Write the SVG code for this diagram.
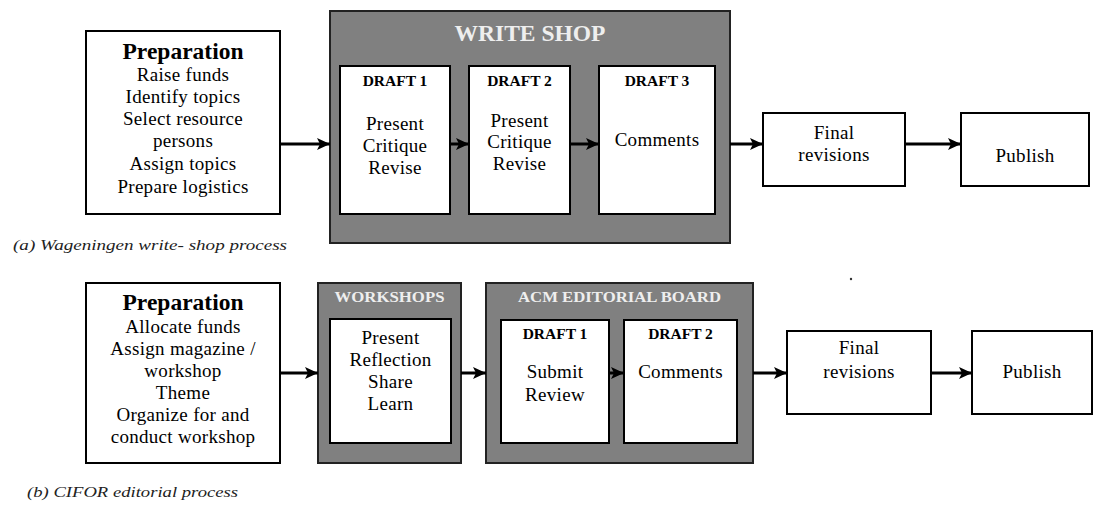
<svg xmlns="http://www.w3.org/2000/svg" width="1094" height="506" viewBox="0 0 1094 506">
<defs>
<marker id="ah" markerUnits="userSpaceOnUse" markerWidth="14" markerHeight="12" refX="13" refY="6" orient="auto">
<path d="M0,0 L13,6 L0,12 L3,6 Z" fill="#000"/>
</marker>
<style>
.box{fill:#fff;stroke:#000;stroke-width:2}
.grp{fill:#808080;stroke:#222;stroke-width:2}
.t{font-family:"Liberation Serif","Times New Roman",serif;fill:#000;text-anchor:middle}
.b{font-size:19px;letter-spacing:0.3px}
.h{font-size:23.5px;font-weight:bold}
.d{font-size:15.5px;font-weight:bold}
.gt{font-family:"Liberation Serif","Times New Roman",serif;fill:#eeeeee;text-anchor:middle;font-weight:bold}
.cap{font-family:"Liberation Serif","Times New Roman",serif;font-style:italic;font-size:14px;fill:#222}
.c{stroke:#000;stroke-width:3;fill:none;marker-end:url(#ah)}
</style>
</defs>
<rect width="1094" height="506" fill="#fff"/>

<!-- Top row -->
<g id="prep-a">
<rect class="box" x="86" y="31" width="194" height="183"/>
<text class="t h" x="183" y="59">Preparation</text>
<text class="t b" x="183" y="81">Raise funds</text>
<text class="t b" x="183" y="103">Identify topics</text>
<text class="t b" x="183" y="125">Select resource</text>
<text class="t b" x="183" y="147">persons</text>
<text class="t b" x="183" y="170">Assign topics</text>
<text class="t b" x="183" y="193">Prepare logistics</text>
</g>
<g id="writeshop">
<rect class="grp" x="330" y="11" width="400" height="232"/>
<text class="gt" x="530" y="41" font-size="23.5">WRITE SHOP</text>
</g>
<g id="draft1-a">
<rect class="box" x="340" y="66" width="110" height="148"/>
<text class="t d" x="395" y="86">DRAFT 1</text>
<text class="t b" x="395" y="130">Present</text>
<text class="t b" x="395" y="152">Critique</text>
<text class="t b" x="395" y="174">Revise</text>
</g>
<g id="draft2-a">
<rect class="box" x="469" y="66" width="101" height="148"/>
<text class="t d" x="519.5" y="86">DRAFT 2</text>
<text class="t b" x="519.5" y="127">Present</text>
<text class="t b" x="519.5" y="148">Critique</text>
<text class="t b" x="519.5" y="170">Revise</text>
</g>
<g id="draft3-a">
<rect class="box" x="599" y="66" width="116" height="148"/>
<text class="t d" x="657" y="86">DRAFT 3</text>
<text class="t b" x="657" y="146">Comments</text>
</g>
<g id="final-a">
<rect class="box" x="763" y="113" width="142" height="73"/>
<text class="t b" x="834" y="139">Final</text>
<text class="t b" x="834" y="161">revisions</text>
</g>
<g id="publish-a">
<rect class="box" x="961" y="113" width="128" height="73"/>
<text class="t b" x="1025" y="162">Publish</text>
</g>
<text class="cap" x="13" y="250" textLength="274" lengthAdjust="spacingAndGlyphs">(a)  Wageningen write- shop process</text>

<!-- Bottom row -->
<g id="prep-b">
<rect class="box" x="86" y="283" width="194" height="180"/>
<text class="t h" x="183" y="310">Preparation</text>
<text class="t b" x="183" y="333">Allocate funds</text>
<text class="t b" x="183" y="355">Assign magazine /</text>
<text class="t b" x="183" y="377">workshop</text>
<text class="t b" x="183" y="399">Theme</text>
<text class="t b" x="183" y="421">Organize for and</text>
<text class="t b" x="183" y="443">conduct workshop</text>
</g>
<g id="workshops">
<rect class="grp" x="318" y="283" width="143" height="180"/>
<text class="gt" x="389.5" y="302" font-size="15" textLength="110" lengthAdjust="spacingAndGlyphs">WORKSHOPS</text>
<rect class="box" x="330" y="319" width="121" height="124"/>
<text class="t b" x="390.5" y="344">Present</text>
<text class="t b" x="390.5" y="366">Reflection</text>
<text class="t b" x="390.5" y="388">Share</text>
<text class="t b" x="390.5" y="410">Learn</text>
</g>
<g id="acm-board">
<rect class="grp" x="486" y="283" width="267" height="180"/>
<text class="gt" x="619.5" y="302" font-size="15" textLength="203" lengthAdjust="spacingAndGlyphs">ACM EDITORIAL BOARD</text>
</g>
<g id="draft1-b">
<rect class="box" x="501" y="320" width="108" height="123"/>
<text class="t d" x="555" y="339">DRAFT 1</text>
<text class="t b" x="555" y="378">Submit</text>
<text class="t b" x="555" y="401">Review</text>
</g>
<g id="draft2-b">
<rect class="box" x="624" y="320" width="113" height="123"/>
<text class="t d" x="680.5" y="339">DRAFT 2</text>
<text class="t b" x="680.5" y="378">Comments</text>
</g>
<g id="final-b">
<rect class="box" x="787" y="331" width="144" height="83"/>
<text class="t b" x="859" y="354">Final</text>
<text class="t b" x="859" y="378">revisions</text>
</g>
<g id="publish-b">
<rect class="box" x="972" y="331" width="120" height="83"/>
<text class="t b" x="1032" y="378">Publish</text>
</g>
<text class="cap" x="27" y="497" textLength="211" lengthAdjust="spacingAndGlyphs">(b) CIFOR editorial process</text>
<circle cx="851" cy="279" r="1.2" fill="#333"/>

<g id="connectors">
<line class="c" x1="280" y1="144" x2="330" y2="144"/>
<line class="c" x1="450" y1="144" x2="469" y2="144"/>
<line class="c" x1="570" y1="144" x2="599" y2="144"/>
<line class="c" x1="730" y1="144" x2="763" y2="144"/>
<line class="c" x1="905" y1="144" x2="961" y2="144"/>
<line class="c" x1="280" y1="373" x2="318" y2="373"/>
<line class="c" x1="461" y1="373" x2="486" y2="373"/>
<line class="c" x1="609" y1="373" x2="624" y2="373"/>
<line class="c" x1="753" y1="373" x2="787" y2="373"/>
<line class="c" x1="931" y1="373" x2="972" y2="373"/>
</g>
</svg>
